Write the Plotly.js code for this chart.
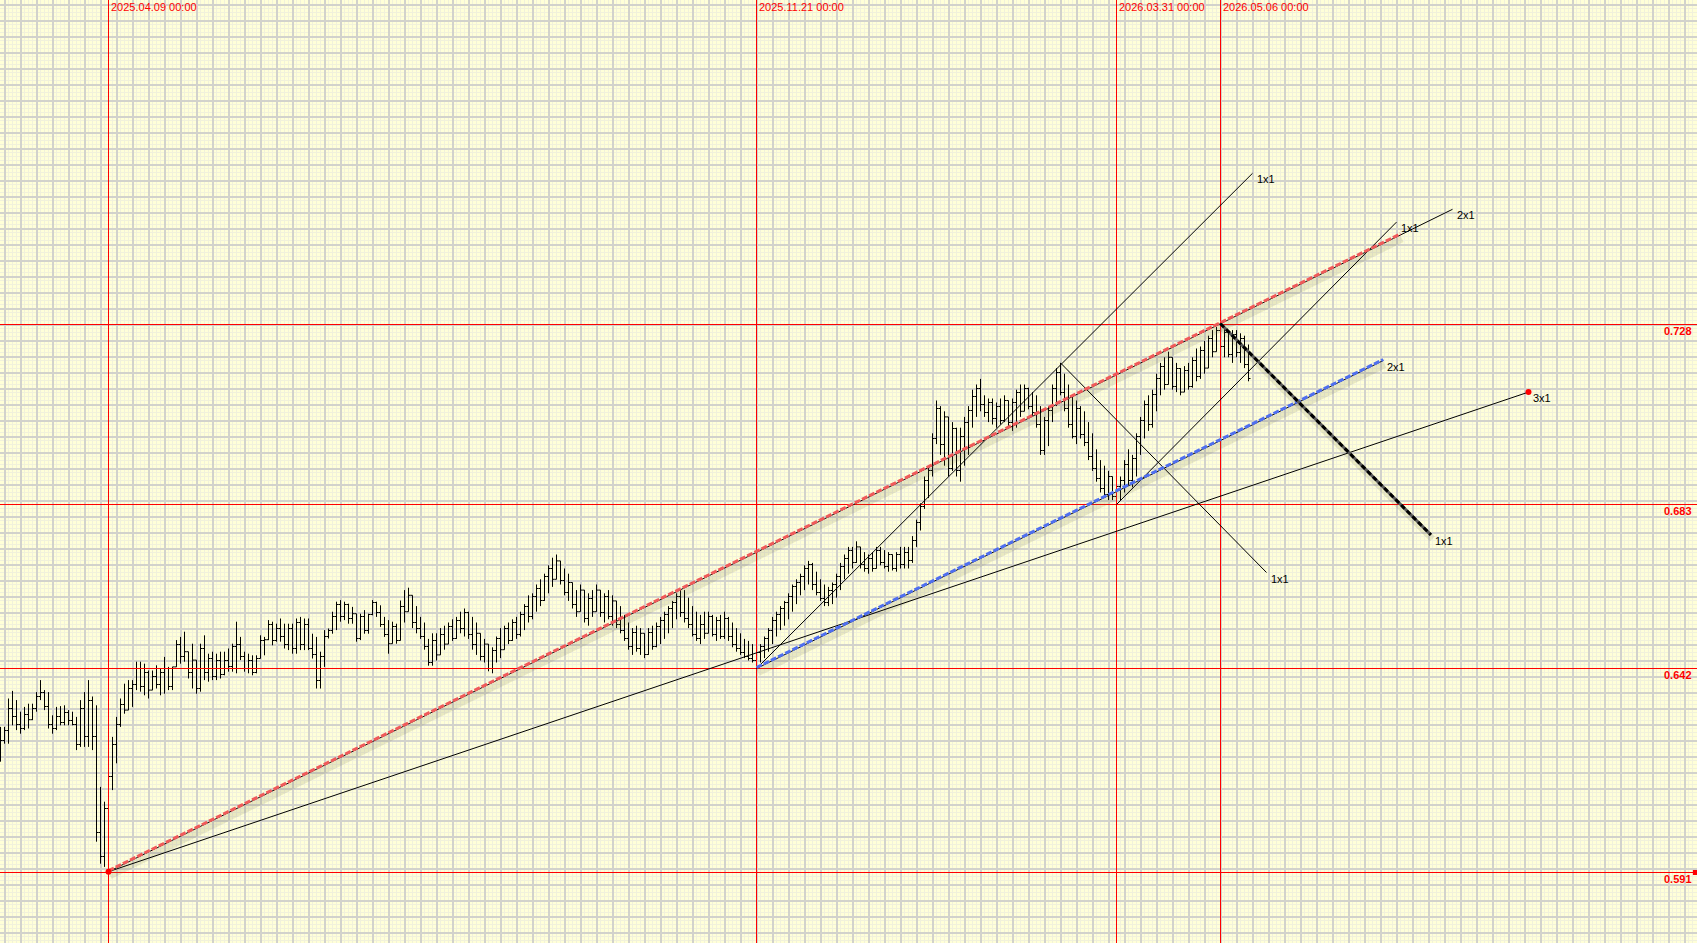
<!DOCTYPE html>
<html><head><meta charset="utf-8">
<script src="https://cdn.plot.ly/plotly-3.0.1.min.js"></script>
<style>html,body{margin:0;padding:0;background:#FFFFD6;overflow:hidden}</style>
</head><body>
<div id="chart" style="width:1697px;height:943px"></div>
<script>
// ---------- data ----------
const firstBar = -27; // bar index of the first bar; index 0 = 2025.04.09
const barOpen = [
.6250,.6240,.6265,.6320,.6300,.6280,.6270,.6305,.6292,.6320,
.6350,.6360,.6325,.6280,.6270,.6300,.6285,.6310,.6290,.6280,
.6230,.6320,.6250,.6340,.6250,.6010,.5950,.6070,.6150,.6230,
.6280,.6330,.6316,.6370,.6380,.6420,.6375,.6410,.6366,.6400,
.6380,.6410,.6420,.6375,.6424,.6480,.6450,.6462,.6410,.6441,
.6370,.6470,.6410,.6445,.6400,.6440,.6405,.6440,.6425,.6475,
.6480,.6450,.6420,.6440,.6410,.6445,.6490,.6492,.6530,.6490,
.6520,.6500,.6480,.6520,.6470,.6535,.6480,.6530,.6470,.6455,
.6390,.6450,.6500,.6515,.6550,.6580,.6550,.6580,.6545,.6557,
.6495,.6550,.6515,.6555,.6585,.6560,.6530,.6505,.6482,.6525,
.6490,.6575,.6562,.6603,.6535,.6520,.6500,.6475,.6435,.6490,
.6454,.6505,.6481,.6525,.6495,.6540,.6520,.6560,.6505,.6480,
.6508,.6450,.6481,.6420,.6465,.6495,.6467,.6520,.6490,.6535,
.6505,.6555,.6575,.6550,.6600,.6620,.6590,.6650,.6670,.6643,
.6689,.6640,.6610,.6635,.6580,.6562,.6616,.6545,.6595,.6562,
.6616,.6560,.6600,.6550,.6589,.6530,.6515,.6495,.6475,.6510,
.6470,.6508,.6455,.6510,.6475,.6525,.6540,.6555,.6570,.6585,
.6600,.6560,.6545,.6530,.6505,.6495,.6530,.6508,.6550,.6505,
.6540,.6500,.6545,.6500,.6480,.6470,.6460,.6450,.6445,.6440,
.6460,.6475,.6495,.6515,.6540,.6555,.6570,.6585,.6600,.6625,
.6635,.6650,.6670,.6680,.6630,.6610,.6595,.6585,.6615,.6630,
.6650,.6675,.6695,.6715,.6685,.6724,.6680,.6670,.6695,.6670,
.6715,.6685,.6675,.6705,.6670,.6705,.6680,.6710,.6690,.6740,
.6785,.6825,.6890,.6915,.6995,.7070,.6980,.7049,.6920,.7020,
.6915,.7000,.7035,.7065,.7100,.7120,.7080,.7060,.7085,.7045,
.7075,.7040,.7090,.7035,.7085,.7110,.7063,.7120,.7075,.7060,
.7030,.6965,.7040,.7065,.7120,.7160,.7110,.7070,.7030,.7000,
.7070,.7005,.6985,.6950,.6920,.6895,.6870,.6855,.6900,.6850,
.6875,.6890,.6930,.6890,.6945,.7000,.7040,.7080,.7030,.7105,
.7145,.7175,.7130,.7198,.7125,.7170,.7111,.7165,.7125,.7190,
.7150,.7215,.7171,.7245,.7212,.7265,.7225,.7260,.7205,.7255,
.7210,.7245,.7180
];
const barHigh = [
.6274,.6274,.6345,.6364,.6341,.6312,.6324,.6332,.6332,.6361,
.6391,.6366,.6361,.6303,.6324,.6326,.6328,.6316,.6312,.6299,
.6341,.6361,.6391,.6350,.6328,.6124,.6087,.6178,.6249,.6299,
.6345,.6382,.6391,.6391,.6437,.6437,.6432,.6415,.6415,.6428,
.6420,.6449,.6424,.6424,.6491,.6499,.6512,.6462,.6482,.6441,
.6482,.6503,.6457,.6462,.6457,.6462,.6462,.6470,.6482,.6537,
.6499,.6462,.6457,.6453,.6453,.6503,.6499,.6541,.6537,.6532,
.6545,.6532,.6532,.6532,.6545,.6549,.6545,.6545,.6507,.6499,
.6462,.6516,.6520,.6562,.6587,.6591,.6587,.6582,.6574,.6557,
.6557,.6566,.6557,.6591,.6587,.6578,.6549,.6541,.6537,.6532,
.6590,.6616,.6622,.6603,.6576,.6549,.6535,.6494,.6508,.6508,
.6521,.6527,.6535,.6543,.6549,.6562,.6570,.6562,.6549,.6535,
.6508,.6494,.6481,.6473,.6500,.6521,.6527,.6535,.6543,.6549,
.6562,.6581,.6603,.6608,.6630,.6643,.6657,.6678,.6697,.6705,
.6689,.6670,.6657,.6635,.6616,.6630,.6616,.6608,.6616,.6630,
.6616,.6608,.6616,.6603,.6589,.6576,.6554,.6535,.6521,.6527,
.6521,.6508,.6521,.6527,.6535,.6549,.6562,.6576,.6589,.6608,
.6616,.6616,.6597,.6576,.6562,.6554,.6562,.6562,.6554,.6549,
.6554,.6562,.6549,.6535,.6521,.6508,.6494,.6489,.6481,.6467,
.6481,.6500,.6521,.6549,.6562,.6576,.6589,.6608,.6630,.6643,
.6657,.6678,.6689,.6684,.6662,.6643,.6630,.6624,.6635,.6657,
.6684,.6705,.6724,.6724,.6738,.6724,.6711,.6705,.6711,.6724,
.6724,.6716,.6711,.6705,.6711,.6724,.6724,.6724,.6751,.6792,
.6833,.6900,.6927,.7008,.7090,.7076,.7063,.7049,.7036,.7022,
.7022,.7049,.7076,.7117,.7130,.7144,.7103,.7095,.7095,.7085,
.7095,.7103,.7090,.7095,.7117,.7130,.7130,.7122,.7111,.7103,
.7076,.7049,.7076,.7130,.7171,.7184,.7157,.7130,.7103,.7090,
.7076,.7063,.7036,.7008,.6968,.6941,.6927,.6914,.6900,.6887,
.6900,.6941,.6968,.6954,.7008,.7049,.7090,.7103,.7117,.7157,
.7184,.7198,.7212,.7198,.7184,.7171,.7176,.7184,.7198,.7220,
.7225,.7239,.7252,.7266,.7274,.7282,.7274,.7266,.7266,.7266,
.7258,.7252,.7230
];
const barLow = [
.6187,.6232,.6232,.6278,.6266,.6257,.6266,.6270,.6291,.6312,
.6341,.6316,.6270,.6257,.6266,.6278,.6278,.6278,.6278,.6216,
.6224,.6224,.6224,.6216,.5987,.5932,.5924,.5912,.6116,.6183,
.6274,.6307,.6316,.6324,.6366,.6362,.6353,.6345,.6366,.6370,
.6353,.6357,.6366,.6366,.6424,.6432,.6437,.6395,.6370,.6357,
.6362,.6391,.6387,.6391,.6391,.6395,.6403,.6412,.6412,.6408,
.6441,.6412,.6408,.6403,.6408,.6445,.6453,.6491,.6478,.6487,
.6487,.6470,.6466,.6457,.6457,.6466,.6466,.6466,.6445,.6370,
.6370,.6424,.6495,.6507,.6516,.6537,.6541,.6532,.6532,.6487,
.6491,.6507,.6507,.6553,.6549,.6524,.6499,.6457,.6482,.6482,
.6490,.6535,.6562,.6521,.6508,.6494,.6467,.6427,.6427,.6440,
.6454,.6467,.6481,.6489,.6494,.6508,.6500,.6494,.6467,.6454,
.6440,.6435,.6413,.6408,.6435,.6446,.6467,.6481,.6489,.6494,
.6500,.6516,.6535,.6543,.6562,.6576,.6589,.6608,.6624,.6643,
.6630,.6603,.6589,.6570,.6549,.6562,.6535,.6527,.6549,.6562,
.6549,.6535,.6543,.6527,.6521,.6508,.6489,.6467,.6454,.6462,
.6454,.6446,.6454,.6467,.6473,.6481,.6494,.6508,.6521,.6543,
.6549,.6535,.6521,.6500,.6489,.6481,.6494,.6508,.6500,.6489,
.6494,.6494,.6489,.6473,.6462,.6454,.6446,.6440,.6435,.6420,
.6435,.6446,.6462,.6481,.6500,.6516,.6527,.6543,.6562,.6581,
.6603,.6616,.6630,.6616,.6603,.6589,.6576,.6576,.6581,.6597,
.6616,.6643,.6657,.6670,.6684,.6670,.6662,.6657,.6662,.6670,
.6678,.6670,.6662,.6665,.6662,.6670,.6670,.6670,.6684,.6724,
.6765,.6819,.6846,.6900,.6981,.6954,.6927,.6900,.6914,.6900,
.6887,.6927,.6954,.7022,.7049,.7063,.7049,.7036,.7030,.7022,
.7030,.7036,.7022,.7014,.7022,.7049,.7063,.7068,.7049,.7022,
.6954,.6954,.6976,.7036,.7076,.7103,.7063,.7022,.6995,.6981,
.6995,.6976,.6941,.6914,.6887,.6860,.6846,.6841,.6841,.6830,
.6841,.6860,.6879,.6873,.6900,.6954,.6995,.7014,.7022,.7063,
.7103,.7117,.7130,.7117,.7111,.7103,.7111,.7117,.7122,.7138,
.7144,.7157,.7171,.7198,.7212,.7212,.7198,.7198,.7184,.7198,
.7184,.7171,.7138
];
const barClose = [
.6240,.6265,.6320,.6300,.6280,.6270,.6305,.6292,.6320,.6350,
.6360,.6325,.6280,.6270,.6300,.6285,.6310,.6290,.6280,.6230,
.6320,.6250,.6340,.6250,.6010,.5950,.6070,.6150,.6230,.6280,
.6330,.6316,.6370,.6380,.6420,.6375,.6410,.6366,.6400,.6380,
.6410,.6420,.6375,.6424,.6480,.6450,.6462,.6410,.6441,.6370,
.6470,.6410,.6445,.6400,.6440,.6405,.6440,.6425,.6475,.6480,
.6450,.6420,.6440,.6410,.6445,.6490,.6492,.6530,.6490,.6520,
.6500,.6480,.6520,.6470,.6535,.6480,.6530,.6470,.6455,.6390,
.6450,.6500,.6515,.6550,.6580,.6550,.6580,.6545,.6557,.6495,
.6550,.6515,.6555,.6585,.6560,.6530,.6505,.6482,.6525,.6490,
.6575,.6562,.6603,.6535,.6520,.6500,.6475,.6435,.6490,.6454,
.6505,.6481,.6525,.6495,.6540,.6520,.6560,.6505,.6480,.6508,
.6450,.6481,.6420,.6465,.6495,.6467,.6520,.6490,.6535,.6505,
.6555,.6575,.6550,.6600,.6620,.6590,.6650,.6670,.6643,.6689,
.6640,.6610,.6635,.6580,.6562,.6616,.6545,.6595,.6562,.6616,
.6560,.6600,.6550,.6589,.6530,.6515,.6495,.6475,.6510,.6470,
.6508,.6455,.6510,.6475,.6525,.6540,.6555,.6570,.6585,.6600,
.6560,.6545,.6530,.6505,.6495,.6530,.6508,.6550,.6505,.6540,
.6500,.6545,.6500,.6480,.6470,.6460,.6450,.6445,.6440,.6460,
.6475,.6495,.6515,.6540,.6555,.6570,.6585,.6600,.6625,.6635,
.6650,.6670,.6680,.6630,.6610,.6595,.6585,.6615,.6630,.6650,
.6675,.6695,.6715,.6685,.6724,.6680,.6670,.6695,.6670,.6715,
.6685,.6675,.6705,.6670,.6705,.6680,.6710,.6690,.6740,.6785,
.6825,.6890,.6915,.6995,.7070,.6980,.7049,.6920,.7020,.6915,
.7000,.7035,.7065,.7100,.7120,.7080,.7060,.7085,.7045,.7075,
.7040,.7090,.7035,.7085,.7110,.7063,.7120,.7075,.7060,.7030,
.6965,.7040,.7065,.7120,.7160,.7110,.7070,.7030,.7000,.7070,
.7005,.6985,.6950,.6920,.6895,.6870,.6855,.6900,.6850,.6875,
.6890,.6930,.6890,.6945,.7000,.7040,.7080,.7030,.7105,.7145,
.7175,.7130,.7198,.7125,.7170,.7111,.7165,.7125,.7190,.7150,
.7215,.7171,.7245,.7212,.7265,.7225,.7260,.7205,.7255,.7210,
.7245,.7180,.7145
];

// horizontal price levels and their labels
const levelPrices = [0.728, 0.683, 0.642, 0.591];
const levelLabels = ['0.728', '0.683', '0.642', '0.591'];
// vertical time lines (bar index) and their labels
const timeLineBars = [0, 162, 252, 278];
const timeLineLabels = ['2025.04.09 00:00', '2025.11.21 00:00', '2026.03.31 00:00', '2026.05.06 00:00'];

// Gann lines: start bar, start price, end bar, end price, label
const gannStartBar   = [0,      0,      162,    162,    252,    238,    278];
const gannStartPrice = [0.5912, 0.5912, 0.6420, 0.6420, 0.6830, 0.7184, 0.7282];
const gannEndBar     = [336,    355,    286,    318.7,  322,    289.5,  330.6];
const gannEndPrice   = [0.7568, 0.7111, 0.7658, 0.7190, 0.7536, 0.6660, 0.6754];
const gannLabels     = ['2x1',  '3x1',  '1x1',  '2x1',  '1x1',  '1x1',  '1x1'];
// red trend line from the April low through the May top
const trendBars   = [0, 323];
const trendPrices = [0.5912, 0.7504];

// ---------- layout helpers (pixel geometry of the picture) ----------
const W = 1697, H = 943;
const pxPerBar = 4, pxPerUnit = 4000, bar0Px = 108.5, topPrice = 0.809125;
const xr = [-bar0Px / pxPerBar, (W - bar0Px) / pxPerBar];
const yr = [topPrice - H / pxPerUnit, topPrice];
const dxPx = 1 / pxPerBar, dyPx = 1 / pxPerUnit;

const barX = barOpen.map((_, k) => firstBar + k);

const traces = [];
traces.push({type: 'scatter', x: [], y: [], xaxis: 'x', yaxis: 'y', hoverinfo: 'skip', showlegend: false});
traces.push({
  type: 'ohlc', x: barX, open: barOpen, high: barHigh, low: barLow, close: barClose,
  xaxis: 'x2', yaxis: 'y2', tickwidth: 0.5, line: {width: 1},
  increasing: {line: {color: '#000000', width: 1}},
  decreasing: {line: {color: '#000000', width: 1}},
  hoverinfo: 'skip', showlegend: false
});
function seg(x, y, color, width, dash, extra) {
  const t = {type: 'scatter', mode: 'lines', x: x, y: y, xaxis: 'x2', yaxis: 'y2',
    line: {color: color, width: width, dash: dash || 'solid'}, hoverinfo: 'skip', showlegend: false};
  return Object.assign(t, extra || {});
}
// red price levels and time lines
levelPrices.forEach(p => traces.push(seg([xr[0], xr[1]], [p, p], '#FF0000', 1)));
timeLineBars.forEach(b => traces.push(seg([b, b], [yr[0], yr[1]], '#FF0000', 1)));

// shadows under the highlighted lines
function shadow(x, y) {
  return seg(x.map(v => v + 1.5 * dxPx), y.map(v => v - 4 * dyPx), 'rgba(110,105,60,0.15)', 7);
}
traces.push(shadow(trendBars, trendPrices));
traces.push(shadow([gannStartBar[3], gannEndBar[3]], [gannStartPrice[3], gannEndPrice[3]]));
traces.push(shadow([gannStartBar[6], gannEndBar[6]], [gannStartPrice[6], gannEndPrice[6]]));

// thin black gann lines
for (let k = 0; k < gannLabels.length; k++) {
  traces.push(seg([gannStartBar[k], gannEndBar[k]], [gannStartPrice[k], gannEndPrice[k]], '#000000', 1));
}
// highlighted dashed lines
traces.push(seg(trendBars, trendPrices.map(v => v + 1 * dyPx), '#F05A5A', 3, '6px,2px'));
traces.push(seg([gannStartBar[3], gannEndBar[3]], [gannStartPrice[3] + dyPx, gannEndPrice[3] + dyPx], '#4F6FF0', 3, '6px,2px'));
traces.push(seg([gannStartBar[6], gannEndBar[6]], [gannStartPrice[6], gannEndPrice[6]], '#5A5A5A', 3));
traces.push(seg([gannStartBar[6], gannEndBar[6]], [gannStartPrice[6], gannEndPrice[6]], '#000000', 3, '5px,3px'));

// red points
traces.push({type: 'scatter', mode: 'markers', xaxis: 'x2', yaxis: 'y2',
  x: [gannStartBar[0], gannEndBar[1]], y: [gannStartPrice[0], gannEndPrice[1]],
  marker: {color: '#FF0000', size: 6}, hoverinfo: 'skip', showlegend: false});
traces.push({type: 'scatter', mode: 'markers', xaxis: 'x2', yaxis: 'y2',
  x: [xr[1] - 0.4], y: [levelPrices[3]], marker: {color: '#FF0000', size: 5, symbol: 'square'},
  hoverinfo: 'skip', showlegend: false, cliponaxis: false});

const font = 'Arial, "Liberation Sans", sans-serif';
const annotations = [];
timeLineBars.forEach((b, k) => annotations.push({
  xref: 'x2', yref: 'paper', x: b, y: 1, xanchor: 'left', yanchor: 'top', xshift: 0, yshift: 1,
  text: timeLineLabels[k], showarrow: false, font: {family: font, size: 11, color: '#FF0000'}
}));
levelPrices.forEach((p, k) => annotations.push({
  xref: 'paper', yref: 'y2', x: 1, y: p, xanchor: 'right', yanchor: 'top', xshift: -3, yshift: 2,
  text: levelLabels[k], showarrow: false, font: {family: font, size: 11, color: '#FF0000', weight: 'bold'}
}));
gannLabels.forEach((t, k) => annotations.push({
  xref: 'x2', yref: 'y2', x: gannEndBar[k], y: gannEndPrice[k], xanchor: 'left', yanchor: 'top',
  xshift: 2, yshift: 2, text: t, showarrow: false, font: {family: font, size: 11, color: '#000000'}
}));

const gridAxis = (range, majorTick0, minorTick0) => ({
  range: range, showgrid: true, gridcolor: '#D2D2CC', gridwidth: 2, tick0: majorTick0, dtick: 16,
  minor: {tick0: minorTick0, dtick: 4, showgrid: true, gridcolor: '#F1F1DC', gridwidth: 1, ticks: ''},
  showticklabels: false, ticks: '', zeroline: false, showline: false, fixedrange: true
});
const layout = {
  width: W, height: H, margin: {l: 0, r: 0, t: 0, b: 0, pad: 0},
  paper_bgcolor: '#FFFFD8', plot_bgcolor: '#FFFFD8', showlegend: false,
  xaxis: gridAxis([0, W], 5, 0.5),
  yaxis: gridAxis([H, 0], 5, 0.5),
  xaxis2: {overlaying: 'x', anchor: 'y2', range: xr, visible: false, rangeslider: {visible: false}, fixedrange: true},
  yaxis2: {overlaying: 'y', anchor: 'x2', range: yr, visible: false, fixedrange: true},
  annotations: annotations
};
Plotly.newPlot('chart', traces, layout, {staticPlot: true, displayModeBar: false});
</script>
</body></html>
